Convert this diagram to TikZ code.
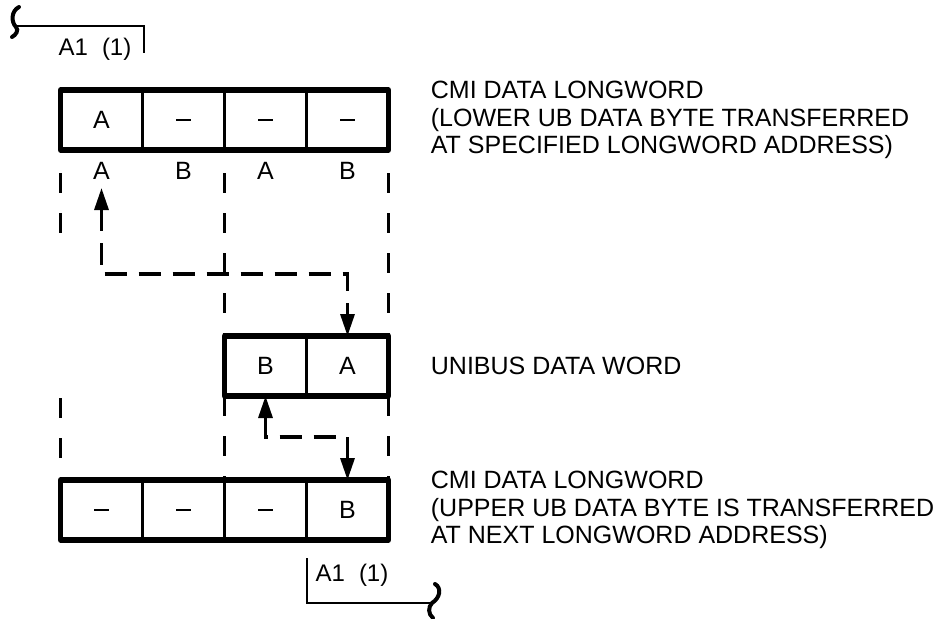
\documentclass[tikz,border=0pt]{standalone}
\usepackage{fontspec}
\setmainfont{Liberation Sans}
\usepackage{tikz}
\usetikzlibrary{arrows.meta,positioning}

\newcommand{\nobyte}{\rule{7.5pt}{1.1pt}}

\begin{document}
\begin{tikzpicture}[x=0.5pt, y=-0.5pt,
  cell/.style={draw, line width=1.4pt, minimum width=41pt, minimum height=30pt, inner sep=0pt, outer sep=0pt, font=\fontsize{12.5}{14}\selectfont},
  frame/.style={line width=2.7pt, line join=round},
  lbl/.style={inner sep=1pt, font=\fontsize{12.5}{14}\selectfont},
  note/.style={inner sep=0pt, align=left, font=\fontsize{12.5}{13.75}\selectfont},
  guide/.style={line width=1.6pt, dash pattern=on 10pt off 10pt},
  link/.style={line width=1.6pt, dash pattern=on 11pt off 6pt, {Triangle[length=11pt,width=7pt]}-{Triangle[length=11pt,width=7pt]}},
  brk/.style={line width=1.4pt},
  squig/.style={line width=2pt, line cap=round}]
\useasboundingbox (0,0) rectangle (942,618);

% CMI longword (lower byte)
\node[cell] (t1) at (101.5,120) {A};
\node[cell, right=0pt of t1] (t2) {\nobyte};
\node[cell, right=0pt of t2] (t3) {\nobyte};
\node[cell, right=0pt of t3] (t4) {\nobyte};
\draw[frame] (t1.north west) rectangle (t4.south east);

% Byte lanes
\node[lbl, below=5pt of t1] (la1) {A};
\node[lbl, below=5pt of t2] (lb1) {B};
\node[lbl, below=5pt of t3] (la2) {A};
\node[lbl, below=5pt of t4] (lb2) {B};

% Unibus word
\node[cell] (u1) at (265.5,366) {B};
\node[cell, right=0pt of u1] (u2) {A};
\draw[frame] (u1.north west) rectangle (u2.south east);

% CMI longword (upper byte)
\node[cell] (b1) at (101.5,510) {\nobyte};
\node[cell, right=0pt of b1] (b2) {\nobyte};
\node[cell, right=0pt of b2] (b3) {\nobyte};
\node[cell, right=0pt of b3] (b4) {B};
\draw[frame] (b1.north west) rectangle (b4.south east);

% Dashed guide lines
\draw[guide] ([yshift=-11.5pt]t1.south west) -- ++(0,60);
\draw[guide] ([yshift=41pt]b1.north west) -- (b1.north west);
\draw[guide] ([yshift=-11.5pt]t3.south west) -- (u1.north west);
\draw[guide] (u1.south west) -- (b3.north west);
\draw[guide] ([yshift=-11.5pt]t4.south east) -- (u2.north east);
\draw[guide] (u2.south east) -- (b4.north east);

% Byte transfers
\coordinate[above=31pt of u2.north] (j1);
\draw[link, shorten <=3pt] (la1.south) |- (j1) -- (u2.north);
\coordinate[below=20.5pt of u1.south] (j2);
\draw[link] (u1.south) |- (j2 -| b4.north) -- (b4.north);

% Descriptions
\node[note, right=21pt of t4] (n1) {CMI DATA LONGWORD\\(LOWER UB DATA BYTE TRANSFERRED\\AT SPECIFIED LONGWORD ADDRESS)};
\node[note, right=21pt of u2] (n2) {UNIBUS DATA WORD};
\node[note, right=21pt of b4] (n3) {CMI DATA LONGWORD\\(UPPER UB DATA BYTE IS TRANSFERRED\\AT NEXT LONGWORD ADDRESS)};

% A1 (1) breaks
\node[lbl, font=\fontsize{12}{14}\selectfont] (a1t) at (95,49) {A1\hspace{7pt}(1)};
\draw[brk] (17,26) -- (144,26) -- (144,53);
\draw[squig] (19,7) .. controls (11,11) and (11,22) .. (16,27) .. controls (19,30) and (16,35) .. (12,37);
\node[lbl, font=\fontsize{12}{14}\selectfont] (a1b) at (352,575) {A1\hspace{7pt}(1)};
\draw[brk] (307,558) -- (307,603) -- (432,603);
\draw[squig] (435,584) .. controls (442,588) and (440,598) .. (432,603) .. controls (428,607) and (428,614) .. (433,618);
\end{tikzpicture}
\end{document}
